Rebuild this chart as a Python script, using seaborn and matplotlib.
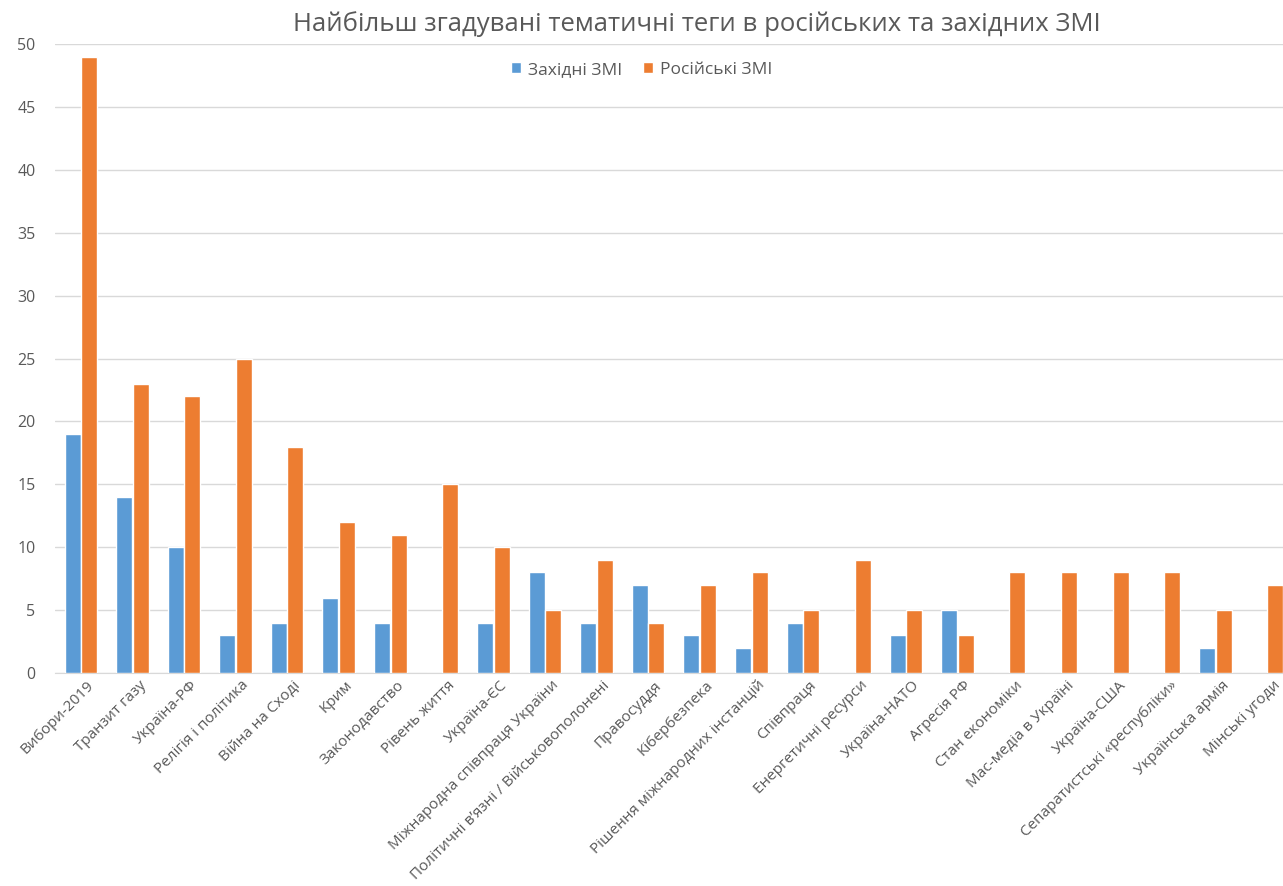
import pandas as pd
import seaborn as sns
import matplotlib.pyplot as plt
from matplotlib.transforms import ScaledTranslation

# дані з графіка
tags = ['Вибори-2019', 'Транзит газу', 'Україна-РФ', 'Релігія і політика',
        'Війна на Сході', 'Крим', 'Законодавство', 'Рівень життя',
        'Україна-ЄС', 'Міжнародна співпраця України',
        'Політичні в\u2019язні / Військовополонені', 'Правосуддя',
        'Кібербезпека', 'Рішення міжнародних інстанцій', 'Співпраця',
        'Енергетичні ресурси', 'Україна-НАТО', 'Агресія РФ',
        'Стан економіки', 'Мас-медіа в Україні', 'Україна-США',
        'Сепаратистські «республіки»', 'Українська армія', 'Мінські угоди']
western = [19, 14, 10, 3, 4, 6, 4, 0, 4, 8, 4, 7, 3, 2, 4, 0, 3, 5, 0, 0, 0, 0, 2, 0]
russian = [49, 23, 22, 25, 18, 12, 11, 15, 10, 5, 9, 4, 7, 8, 5, 9, 5, 3, 8, 8, 8, 8, 5, 7]
series = ['Західні ЗМІ', 'Російські ЗМІ']
colors = ['#5B9BD5', '#ED7D31']

df = pd.DataFrame({'тег': tags * 2,
                   'кількість': western + russian,
                   'ЗМІ': [series[0]] * len(tags) + [series[1]] * len(tags)})

sns.set_style('white')
plt.rcParams['font.family'] = ['Open Sans', 'DejaVu Sans']

fig = plt.figure(figsize=(12.83, 8.86), dpi=100)
ax = fig.add_axes([0.0429, 0.2404, 0.9571, 0.7099])

sns.barplot(data=df, x='тег', y='кількість', hue='ЗМІ', palette=colors,
            width=0.64, gap=0.03, edgecolor='white', linewidth=1,
            saturation=1, ax=ax, zorder=3)

ax.set_ylim(0, 50)
ax.set_xlim(-0.5, 23.31)
ax.set_yticks(range(0, 51, 5))
ax.yaxis.grid(True, color='#d9d9d9', linewidth=1, zorder=0)
ax.set_axisbelow(True)
for s in ['top', 'right', 'left']:
    ax.spines[s].set_visible(False)
ax.spines['bottom'].set_color('#d9d9d9')
ax.tick_params(axis='both', length=0, colors='#595959', labelsize=11.5)
ax.tick_params(axis='x', labelsize=11)
ax.tick_params(axis='y', pad=14)
shift = ScaledTranslation(6 / 100, 0, fig.dpi_scale_trans)
for lbl in ax.get_xticklabels():
    lbl.set_rotation(45)
    lbl.set_ha('right')
    lbl.set_rotation_mode('anchor')
    lbl.set_transform(lbl.get_transform() + shift)
ax.set_xlabel('')
ax.set_ylabel('')

ax.legend(loc='center', bbox_to_anchor=(0.5, 0.921), bbox_transform=fig.transFigure,
          ncol=2, frameon=False, fontsize=12.5, handlelength=0.6, handleheight=0.6,
          handletextpad=0.4, columnspacing=1.2, labelcolor='#595959')

fig.text(0.543, 0.973, 'Найбільш згадувані тематичні теги в російських та західних ЗМІ',
         ha='center', va='center', fontsize=18.5, color='#595959')

fig.savefig('out.png', dpi=100)
